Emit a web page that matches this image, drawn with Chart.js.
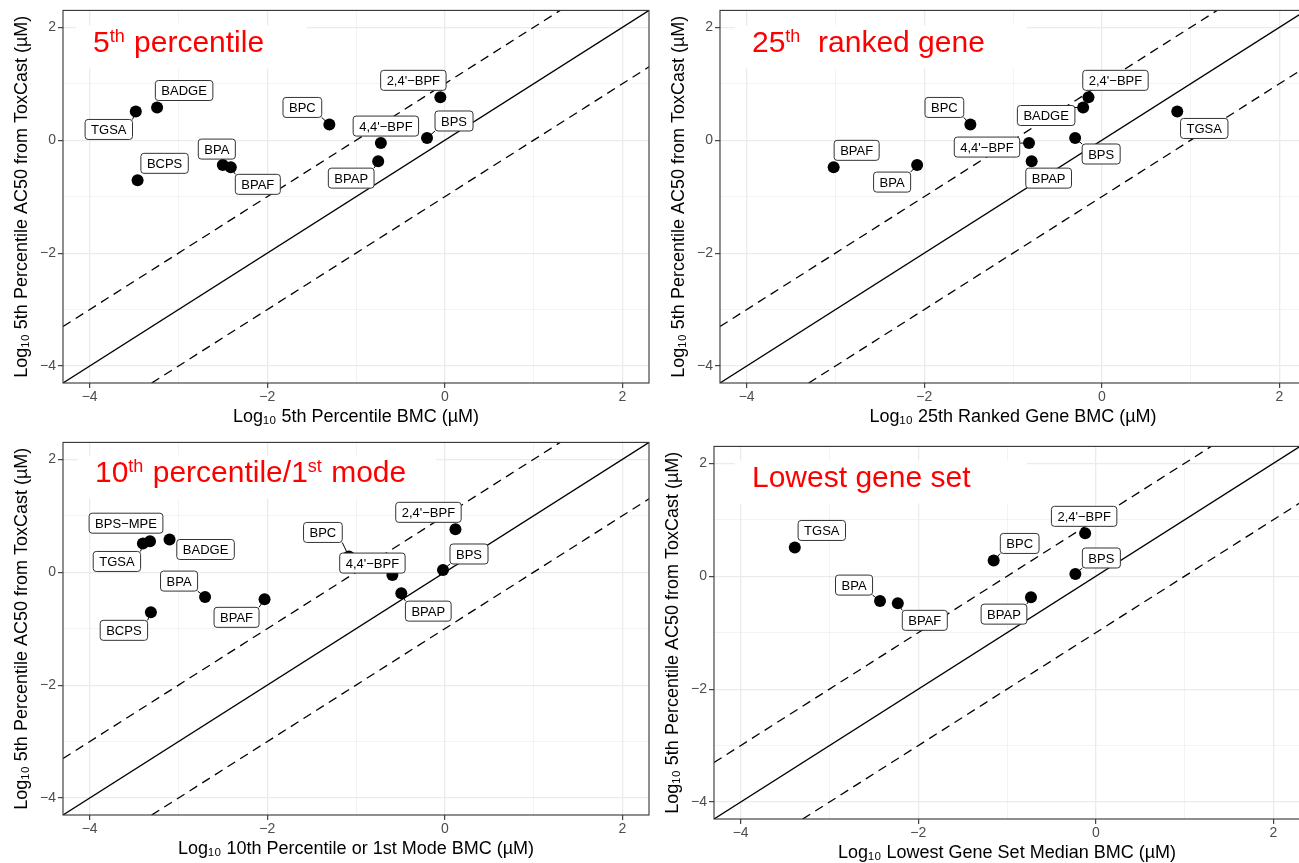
<!DOCTYPE html>
<html>
<head>
<meta charset="utf-8">
<script src="https://cdn.jsdelivr.net/npm/chart.js@4.4.1/dist/chart.umd.min.js"></script>
<style>
  html, body { margin: 0; padding: 0; background: #fff; overflow: hidden; }
  #wrap { position: relative; width: 1299px; height: 863px; overflow: hidden; }
  #wrap canvas { position: absolute; }
</style>
</head>
<body>
<div id="wrap">
  <canvas id="c1" width="655" height="430" style="left:0px;top:0px"></canvas>
  <canvas id="c2" width="655" height="430" style="left:657px;top:0px"></canvas>
  <canvas id="c3" width="655" height="430" style="left:0px;top:432px"></canvas>
  <canvas id="c4" width="655" height="430" style="left:651px;top:436px"></canvas>
</div>
<script>
// chemicals and log10 5th percentile AC50 (y, same in every panel)
const chemicals = ['TGSA', 'BADGE', 'BCPS', 'BPA', 'BPAF', 'BPC', "4,4'\u2212BPF", 'BPAP', 'BPS', "2,4'\u2212BPF", 'BPS\u2212MPE'];
const ac50 = [0.51, 0.58, -0.71, -0.44, -0.48, 0.28, -0.05, -0.37, 0.04, 0.76, 0.55];

// log10 BMC per panel (null = not in panel)
const bmc5thPct    = [-3.48, -3.24, -3.46, -2.50, -2.41, -1.30, -0.72, -0.75, -0.20, -0.05, null];
const bmc25thGene  = [0.85, -0.21, null, -2.08, -3.02, -1.48, -0.82, -0.79, -0.30, -0.15, null];
const bmc10thMode  = [-3.40, -3.10, -3.31, -2.70, -2.03, -1.08, -0.59, -0.49, -0.02, 0.12, -3.32];
const bmcLowestSet = [-3.39, null, null, -2.43, -2.23, -1.15, null, -0.73, -0.23, -0.12, null];

// axis
const axisRange = [-4.3, 2.3];
const tickValues = [-4, -3, -2, -1, 0, 1, 2];
const refOffsets = [0, 1, -1];   // y = x, y = x + 1, y = x - 1

// label nudges in px (layout only)
const nudge1 = [[-27, 18], [27, -17], [27, -17], [-6, -16], [27, 17], [-27, -17], [5, -17], [-27, 17], [27, -17], [-27, -17], null];
const nudge2 = [[27, 17], [-37, 8], null, [-25, 17], [23, -17], [-26, -17], [-42, 4], [17, 17], [26, 16], [27, -17], null];
const nudge3 = [[-26, 18], [36, 10], [-27, 18], [-26, -16], [-28, 18], [-26, -24], [-20, -12], [27, 18], [26, -16], [-27, -17], [-24, -18]];
const nudge4 = [[27, -17], null, null, [-26, -16], [27, 17], [26, -17], null, [-27, 17], [26, -16], [-1, -17], null];

const FONT = '"Liberation Sans", Arial, Helvetica, sans-serif';

function labelBox(ctx, text, px, py, nd) {
    const w = ctx.measureText(text).width + 12;
    const h = 20;
    return { x: px + nd[0] - w / 2, y: py + nd[1] - h / 2, w: w, h: h };
}

const panelDecor = {
    id: 'panelDecor',
    beforeDatasetsDraw(chart, args, opts) {
        const ctx = chart.ctx;
        const xs = chart.scales.x, ys = chart.scales.y;
        const area = chart.chartArea;
        ctx.save();
        // white box behind the panel title
        const tx = area.left + opts.titleX;
        const base = area.top + opts.titleBase;
        ctx.fillStyle = '#fff';
        ctx.fillRect(tx - 17, base - 27, opts.boxW, 43);

        // leader segments
        ctx.font = '13px ' + FONT;
        ctx.strokeStyle = '#000';
        ctx.lineWidth = 1;
        opts.xValues.forEach((xv, i) => {
            if (xv === null || !opts.nudges[i]) return;
            const px = xs.getPixelForValue(xv), py = ys.getPixelForValue(ac50[i]);
            const b = labelBox(ctx, chemicals[i], px, py, opts.nudges[i]);
            const cx = Math.max(b.x, Math.min(px, b.x + b.w));
            const cy = Math.max(b.y, Math.min(py, b.y + b.h));
            if (Math.hypot(cx - px, cy - py) > 8) {
                ctx.beginPath();
                ctx.moveTo(px, py);
                ctx.lineTo(cx, cy);
                ctx.stroke();
            }
        });
        ctx.restore();
    },
    afterDatasetsDraw(chart, args, opts) {
        const ctx = chart.ctx;
        const xs = chart.scales.x, ys = chart.scales.y;
        const area = chart.chartArea;
        ctx.save();
        // label boxes
        ctx.font = '13px ' + FONT;
        ctx.textAlign = 'center';
        ctx.textBaseline = 'middle';
        opts.xValues.forEach((xv, i) => {
            if (xv === null || !opts.nudges[i]) return;
            const px = xs.getPixelForValue(xv), py = ys.getPixelForValue(ac50[i]);
            const b = labelBox(ctx, chemicals[i], px, py, opts.nudges[i]);
            ctx.beginPath();
            ctx.roundRect(b.x, b.y, b.w, b.h, 3);
            ctx.fillStyle = '#fff';
            ctx.fill();
            ctx.strokeStyle = '#333';
            ctx.lineWidth = 1;
            ctx.stroke();
            ctx.fillStyle = '#000';
            ctx.fillText(chemicals[i], b.x + b.w / 2, b.y + b.h / 2 + 1);
        });

        // red panel title with superscripts
        let x = area.left + opts.titleX;
        const base = area.top + opts.titleBase;
        ctx.textAlign = 'left';
        ctx.textBaseline = 'alphabetic';
        ctx.fillStyle = '#ff0000';
        opts.title.forEach(seg => {
            const sup = seg[1] === 1;
            ctx.font = (sup ? '18px ' : '30px ') + FONT;
            ctx.fillText(seg[0], x, sup ? base - 10 : base);
            x += ctx.measureText(seg[0]).width + (sup ? 1 : 0);
        });
        ctx.restore();
    },
    afterDraw(chart) {
        const ctx = chart.ctx;
        const a = chart.chartArea;
        ctx.save();
        ctx.strokeStyle = '#333';
        ctx.lineWidth = 1.1;
        ctx.strokeRect(a.left, a.top, a.right - a.left, a.bottom - a.top);
        ctx.restore();
    }
};

const panels = [
    { id: 'c1', xValues: bmc5thPct, nudges: nudge1, xTitle: 'Log\u2081\u2080 5th Percentile BMC (\u00b5M)',
      title: [['5'], ['th', 1], [' percentile']], titleX: 30, titleBase: 42, boxW: 231 },
    { id: 'c2', xValues: bmc25thGene, nudges: nudge2, xTitle: 'Log\u2081\u2080 25th Ranked Gene BMC (\u00b5M)',
      title: [['25'], ['th', 1], ['  ranked gene']], titleX: 32, titleBase: 42, boxW: 292 },
    { id: 'c3', xValues: bmc10thMode, nudges: nudge3, xTitle: 'Log\u2081\u2080 10th Percentile or 1st Mode BMC (\u00b5M)',
      title: [['10'], ['th', 1], [' percentile/1'], ['st', 1], [' mode']], titleX: 32, titleBase: 40, boxW: 358 },
    { id: 'c4', xValues: bmcLowestSet, nudges: nudge4, xTitle: 'Log\u2081\u2080 Lowest Gene Set Median BMC (\u00b5M)',
      title: [['Lowest gene set']], titleX: 38, titleBase: 41, boxW: 292 }
];

function axisOptions(titleText, isX) {
    return {
        type: 'linear',
        min: axisRange[0],
        max: axisRange[1],
        afterBuildTicks: scale => { scale.ticks = tickValues.map(v => ({ value: v })); },
        afterFit: scale => {
            if (isX) scale.height = 47; else scale.width = 63;
        },
        border: { display: false },
        grid: {
            color: '#ebebeb',
            lineWidth: c => (c.tick && c.tick.value % 2 === 0) ? 1.3 : 0.6,
            tickColor: c => (c.tick && c.tick.value % 2 === 0) ? '#333' : 'rgba(0,0,0,0)',
            tickLength: 5,
            tickWidth: 1.1
        },
        ticks: {
            autoSkip: false,
            maxRotation: 0,
            padding: isX ? 1 : 2,
            color: '#4d4d4d',
            font: { family: FONT, size: 14 },
            callback: v => v % 2 !== 0 ? '' : (v < 0 ? '\u2212' + Math.abs(v) : String(v))
        },
        title: {
            display: true,
            text: titleText,
            color: '#000',
            font: { family: FONT, size: 18 },
            padding: isX ? { top: 0, bottom: 2 } : { top: 11, bottom: 0 }
        }
    };
}

Chart.register(panelDecor);

panels.forEach(p => {
    const points = [];
    p.xValues.forEach((xv, i) => {
        if (xv !== null) points.push({ x: xv, y: ac50[i] });
    });
    const refLines = refOffsets.map(off => ({
        type: 'scatter',
        data: axisRange.map(v => ({ x: v, y: v + off })),
        showLine: true,
        borderColor: '#000',
        borderWidth: 1.3,
        borderDash: off === 0 ? [] : [9, 6],
        pointRadius: 0,
        order: 2
    }));
    new Chart(document.getElementById(p.id), {
        type: 'scatter',
        data: {
            datasets: [{
                data: points,
                backgroundColor: '#000',
                borderWidth: 0,
                pointRadius: 6,
                order: 1
            }].concat(refLines)
        },
        options: {
            responsive: false,
            animation: false,
            layout: { padding: { left: 0, right: 3, top: 10, bottom: 0 } },
            scales: {
                x: axisOptions(p.xTitle, true),
                y: axisOptions('Log\u2081\u2080 5th Percentile AC50 from ToxCast (\u00b5M)', false)
            },
            plugins: {
                legend: { display: false },
                tooltip: { enabled: false },
                panelDecor: {
                    xValues: p.xValues, nudges: p.nudges, title: p.title,
                    titleX: p.titleX, titleBase: p.titleBase, boxW: p.boxW
                }
            }
        }
    });
});
</script>
</body>
</html>
